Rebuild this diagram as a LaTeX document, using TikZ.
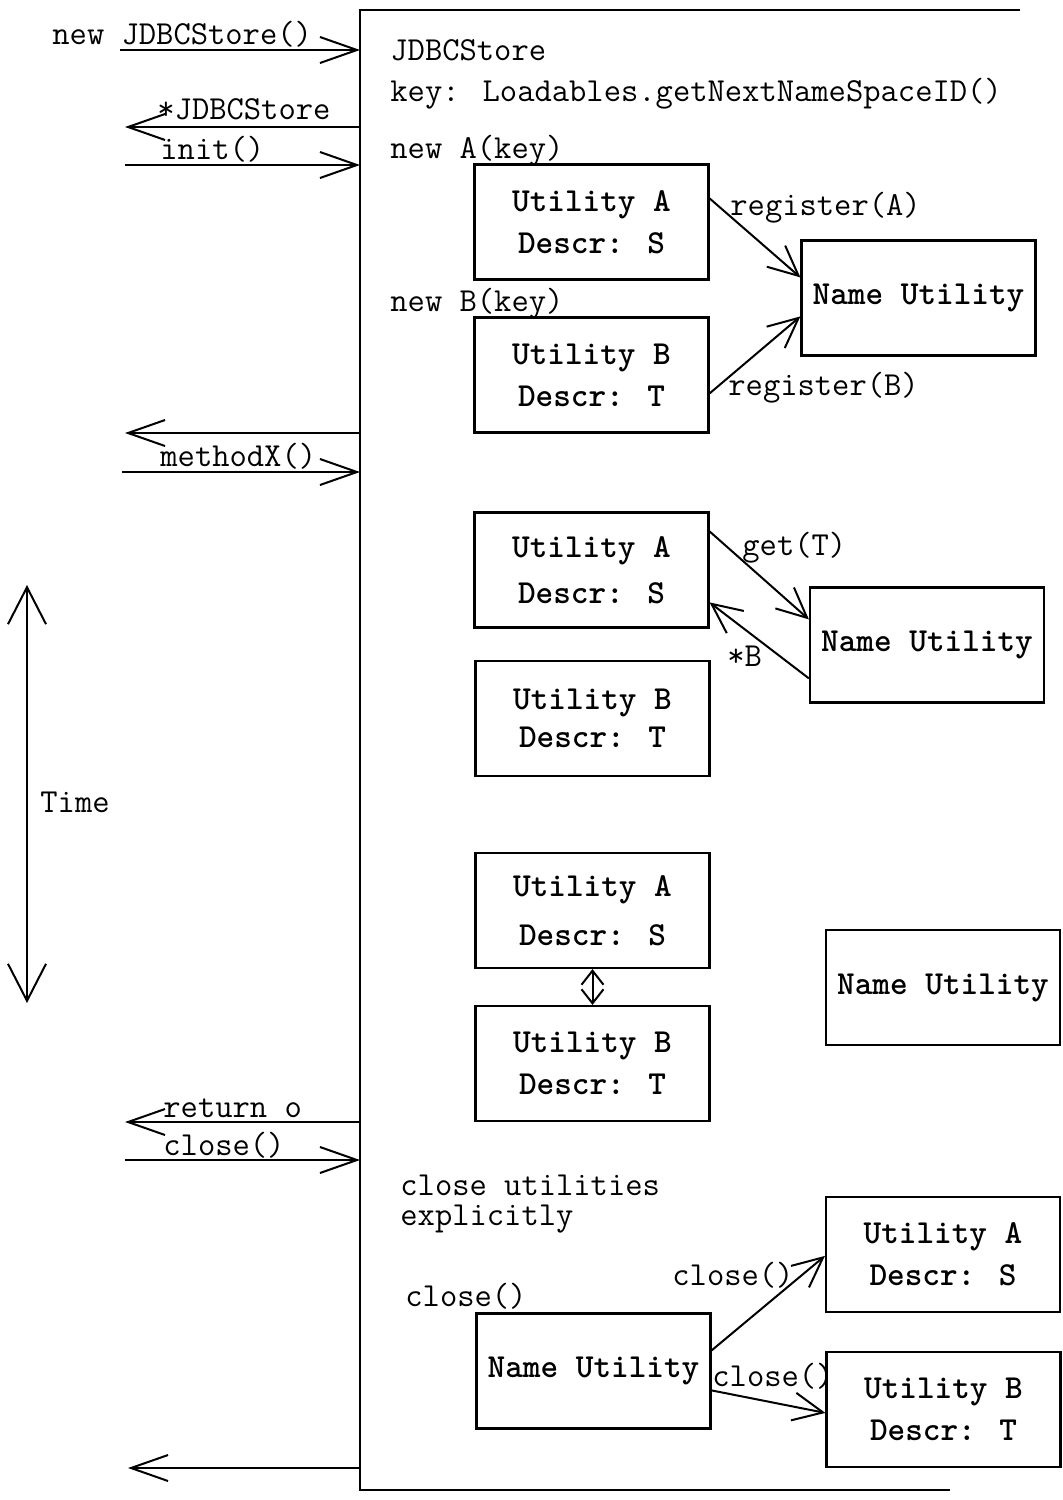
\documentclass[tikz,border=0pt]{standalone}
\usepackage{fontspec}
\usetikzlibrary{arrows.meta,calc}
\begin{document}
\begin{tikzpicture}[x=0.5pt,y=-0.5pt,
  ubox/.style={draw, line width=1.1pt, minimum width=117pt, minimum height=57.5pt, inner sep=0pt, align=center, font=\ttfamily\fontsize{16.8}{21}\selectfont\bfseries},
  lbl/.style={anchor=base west, inner sep=0pt, font=\ttfamily\fontsize{16.8}{18}\selectfont},
  msg/.style={line width=1pt, -{Straight Barb[length=18.5pt,width=13pt]}},
  inn/.style={line width=1pt, -{Straight Barb[length=15pt,width=14pt]}},
  frame/.style={line width=1pt},
]
\useasboundingbox (0,0) rectangle (1062,1500);

% lifeline frame
\coordinate (F1) at (1020,10);
\coordinate (F2) at (360,10);
\coordinate (F3) at (360,1490);
\coordinate (F4) at (950,1490);
\draw[frame] (F1) -- (F2) -- (F3) -- (F4);

% messages on the left
\coordinate (s1) at (120,50);   \coordinate (e1) at (360,50);
\coordinate (s2) at (360,127);  \coordinate (e2) at (125,127);
\coordinate (s3) at (125,165);  \coordinate (e3) at (360,165);
\coordinate (s4) at (360,433);  \coordinate (e4) at (125,433);
\coordinate (s5) at (122,472);  \coordinate (e5) at (360,472);
\coordinate (s6) at (360,1122); \coordinate (e6) at (125,1122);
\coordinate (s7) at (125,1160); \coordinate (e7) at (360,1160);
\coordinate (s8) at (360,1468); \coordinate (e8) at (128,1468);
\foreach \i in {1,...,8} {\draw[msg] (s\i) -- (e\i);}

\node[lbl] (m1) at (52,44) {new JDBCStore()};
\node[lbl] (m2) at (157,119) {*JDBCStore};
\node[lbl] (m3) at (160,159) {init()};
\node[lbl] (m5) at (160,466) {methodX()};
\node[lbl] (m6) at (163,1117) {return o};
\node[lbl] (m7) at (163,1155) {close()};

% time arrow
\coordinate (t1) at (27,585);
\coordinate (t2) at (27,1003);
\draw[line width=1pt, {Straight Barb[length=18.5pt,width=19pt]}-{Straight Barb[length=18.5pt,width=19pt]}] (t1) -- (t2);
\node[lbl] (time) at (40,812) {Time};

% texts inside lifeline
\node[lbl] (j1) at (390,60) {JDBCStore};
\node[lbl] (j2) at (390,101) {key: Loadables.getNextNameSpaceID()};
\node[lbl] (j3) at (390,158) {new A(key)};
\node[lbl] (j4) at (390,311) {new B(key)};

% group 1
\node[ubox] (UA1) at (591.5,222) {Utility A\\Descr: S};
\node[ubox] (UB1) at (591.5,375) {Utility B\\Descr: T};
\node[ubox] (NU1) at (918.5,298) {Name Utility};
\draw[inn] ($(UA1.north east)+(0,35)$) -- ($(NU1.north west)+(0,38)$);
\draw[inn] ($(UB1.north east)+(0,77)$) -- ($(NU1.north west)+(0,77)$);
\node[lbl] (rA) at (730,215) {register(A)};
\node[lbl] (rB) at (728,395) {register(B)};

% group 2
\node[ubox] (UA2) at (591.5,570) {Utility A\\[2pt]Descr: S};
\node[ubox] (UB2) at (592.5,718.5) {Utility B\\[-2pt]Descr: T};
\node[ubox] (NU2) at (927,645) {Name Utility};
\draw[inn] ($(UA2.north east)+(0,20)$) -- ($(NU2.north west)+(0,33)$);
\draw[inn] ($(NU2.north west)+(0,92)$) -- ($(UA2.north east)+(0,91)$);
\node[lbl] (gT) at (742,555) {get(T)};
\node[lbl] (sB) at (727,666) {*B};

% group 3
\node[ubox] (UA3) at (592.5,910.5) {Utility A\\[3.5pt]Descr: S};
\node[ubox] (UB3) at (592.5,1063.5) {Utility B\\Descr: T};
\node[ubox] (NU3) at (943,987.5) {Name Utility};
\draw[line width=1pt, {Straight Barb[length=7pt,width=11pt]}-{Straight Barb[length=7pt,width=11pt]}] (UA3.south) -- (UB3.north);

% group 4
\node[lbl, align=left, font=\ttfamily\fontsize{16.8}{15}\selectfont, anchor=base west] (cu) at (400,1225) {close utilities\\explicitly};
\node[lbl] (cl0) at (405,1306) {close()};
\node[ubox] (NU4) at (593.5,1371) {Name Utility};
\node[ubox] (UA4) at (943,1254.5) {Utility A\\Descr: S};
\node[ubox] (UB4) at (943.5,1409.5) {Utility B\\Descr: T};
\draw[inn] ($(NU4.north east)+(0,38)$) -- ($(UA4.north west)+(0,60)$);
\draw[inn] ($(NU4.north east)+(0,78)$) -- ($(UB4.north west)+(0,62)$);
\node[lbl] (cl1) at (672,1285) {close()};
\node[lbl] (cl2) at (712,1386) {close()};
\end{tikzpicture}
\end{document}
